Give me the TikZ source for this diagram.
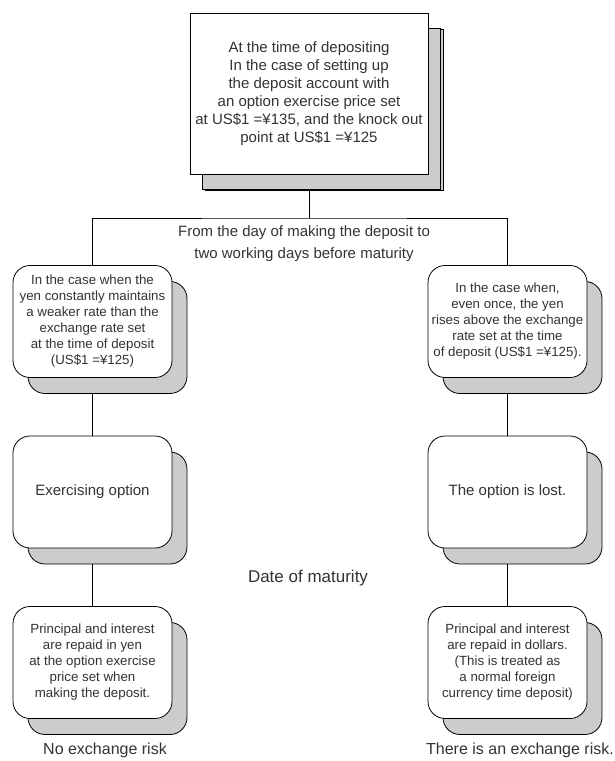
\documentclass[tikz,border=0pt]{standalone}
\usepackage{fontspec}
\setmainfont{Liberation Sans}
\usetikzlibrary{shadows}
\pgfdeclarelayer{background}
\pgfsetlayers{background,main}

\begin{document}
\begin{tikzpicture}[x=1pt, y=-1pt,
  casebox/.style={draw=black, line width=0.8pt, fill=white, rounded corners=17pt,
    minimum width=159pt, minimum height=112pt, inner sep=2pt, align=center,
    text=black!80, font=\fontsize{13.3}{16}\selectfont,
    general shadow={shadow xshift=15pt, shadow yshift=-16pt, fill=black!20, draw=black, line width=0.8pt}},
  topbox/.style={casebox, sharp corners, minimum width=238pt, minimum height=161pt,
    font=\fontsize{15}{18}\selectfont,
    general shadow={shadow xshift=12pt, shadow yshift=-15pt, fill=black!20, draw=black, line width=0.8pt}},
  bigtext/.style={align=center, inner sep=0pt, text=black!80, font=\fontsize{15}{22}\selectfont}]

  \useasboundingbox (0,0) rectangle (615,761);

  % Starting condition
  \node[topbox] (deposit) at (309,93.5) {At the time of depositing\\
    In the case of setting up\\
    the deposit account with\\
    an option exercise price set\\
    at US\$1 =¥135, and the knock out\\
    point at US\$1 =¥125};
  \coordinate (split) at (309,218);
  \node[bigtext] (period) at (304,244) {From the day of making the deposit to\\
    two working days before maturity};

  % Left branch (yen stays weak)
  \node[casebox] (weak) at (92.5,321.5) {In the case when the\\
    yen constantly maintains\\
    a weaker rate than the\\
    exchange rate set\\
    at the time of deposit\\
    (US\$1 =¥125)};
  \node[casebox, font=\fontsize{15}{18}\selectfont] (exercise) at (92.5,492) {Exercising option};
  \node[casebox] (yen) at (92.5,662.5) {Principal and interest\\
    are repaid in yen\\
    at the option exercise\\
    price set when\\
    making the deposit.};

  % Right branch (yen rises)
  \node[casebox] (rise) at (507.5,321.5) {In the case when,\\
    even once, the yen\\
    rises above the exchange\\
    rate set at the time\\
    of deposit (US\$1 =¥125).};
  \node[casebox, font=\fontsize{15}{18}\selectfont] (lost) at (507.5,492) {The option is lost.};
  \node[casebox] (dollar) at (507.5,662.5) {Principal and interest\\
    are repaid in dollars.\\
    (This is treated as\\
    a normal foreign\\
    currency time deposit)};

  % Labels
  \node[bigtext, font=\fontsize{17}{20}\selectfont] (maturity) at (308,578) {Date of maturity};
  \node[bigtext, font=\fontsize{16}{20}\selectfont, anchor=west] (norisk) at (43,750) {No exchange risk};
  \node[bigtext, font=\fontsize{16}{20}\selectfont, anchor=east] (risk) at (614,750) {There is an exchange risk.};

  % Connectors behind the shadows
  \begin{pgfonlayer}{background}
    \draw[line width=0.8pt] (deposit) -- (split);
    \draw[line width=0.8pt] (weak.north) |- (split) -| (rise.north);
    \draw[line width=0.8pt] (weak) -- (exercise) -- (yen);
    \draw[line width=0.8pt] (rise) -- (lost) -- (dollar);
  \end{pgfonlayer}
\end{tikzpicture}
\end{document}
